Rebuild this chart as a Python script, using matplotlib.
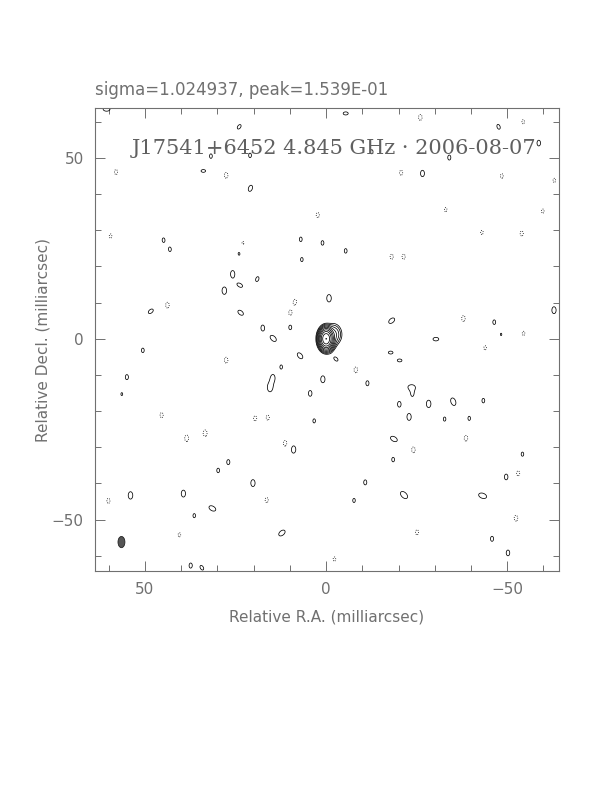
import numpy as np
import matplotlib
matplotlib.use("Agg")
import matplotlib.pyplot as plt
from matplotlib.patches import Ellipse

# map header values
source = "J17541+6452"
freq_label = "4.845 GHz"
obs_date = "2006-08-07"
sigma_val = "1.024937"
peak_val = "1.539E-01"

# map extent (mas), RA increases to the left
ra_lim = (63.8, -64.2)
dec_lim = (-64.2, 63.8)

# restoring beam (mas, deg)
beam_ra, beam_dec = 56.5, -56.2
beam_maj, beam_min, beam_pa = 3.1, 1.9, 0.0

# lowest contour (Jy) and number of doubling steps
lowest = 0.3e-3
n_levels = 9

# main source components: ra, dec (mas), flux (Jy), sigma_ra, sigma_dec (mas)
src_ra = [0.0, -2.0, -1.0]
src_dec = [0.0, 1.2, -1.2]
src_flux = [0.1539, 0.003, 0.0015]
src_sra = [0.8, 1.1, 0.9]
src_sdec = [1.2, 1.4, 1.1]

# positive noise islands: ra, dec (mas), amplitude in units of lowest contour, pa (deg)
pos_ra = [60.6, 24.0, 31.8, 21.0, 33.9, 20.9, 44.9, 43.1, 24.0, 7.0, 1.0, 6.7,
          25.8, 19.0, 23.8, 28.1, 48.4, 23.6, 17.5, 9.9, 14.6, -0.8,
          -5.4, -47.6, -58.7, -34.0, -26.6, -12.6, -5.4, -18.1, -46.4, -62.9,
          -30.3, -48.3, 50.6, 55.0, 56.4, 7.2, 12.4, 14.7, 15.5, 0.9, 4.4, 3.3,
          9.0, 27.0, 29.8, 20.2, 54.0, 39.4, 31.4, 36.4, 12.2, 37.4, 34.3,
          -2.7, -17.8, -20.3, -11.4, -23.5, -23.8, -20.2, -28.3, -35.1, -43.4,
          -22.9, -32.7, -39.5, -18.7, -18.5, -54.2, -49.7, -10.8, -21.5, -43.2,
          -7.7, -45.8, -50.2]
pos_dec = [63.5, 58.6, 50.5, 50.7, 46.4, 41.6, 27.3, 24.7, 23.6, 27.5, 26.5, 21.9,
           17.9, 16.5, 14.8, 13.3, 7.6, 7.2, 3.0, 3.2, 0.1, 11.2,
           62.3, 58.6, 54.1, 50.1, 45.7, 51.7, 24.3, 5.0, 4.6, 7.9,
           -0.1, 1.2, -3.2, -10.6, -15.3, -4.7, -7.8, -10.8, -13.5, -11.2, -15.1, -22.7,
           -30.6, -34.1, -36.4, -39.9, -43.3, -42.8, -46.9, -48.9, -53.7, -62.7, -63.3,
           -5.6, -3.8, -6.0, -12.3, -13.3, -15.3, -18.1, -18.0, -17.4, -17.1,
           -21.6, -22.2, -22.0, -27.7, -33.4, -31.9, -38.2, -39.7, -43.2, -43.4,
           -44.7, -55.3, -59.2]
pos_amp = [1.3, 1.15, 1.12, 1.12, 1.12, 1.25, 1.1, 1.1, 1.1, 1.12, 1.12, 1.1,
           1.3, 1.15, 1.2, 1.35, 1.2, 1.25, 1.2, 1.15, 1.35, 1.35,
           1.15, 1.15, 1.2, 1.15, 1.25, 1.1, 1.12, 1.3, 1.12, 1.3,
           1.2, 1.03, 1.12, 1.15, 1.05, 1.3, 1.1, 1.25, 1.45, 1.3, 1.2, 1.1,
           1.35, 1.15, 1.12, 1.3, 1.35, 1.3, 1.35, 1.1, 1.35, 1.15, 1.15,
           1.15, 1.12, 1.12, 1.15, 1.12, 1.12, 1.2, 1.35, 1.4, 1.12,
           1.3, 1.1, 1.1, 1.35, 1.12, 1.1, 1.2, 1.15, 1.5, 1.45,
           1.1, 1.15, 1.2]
pos_pa = [90, -35, 0, 0, 90, -20, 0, 0, 0, 0, 0, 0,
          0, -20, 60, 0, -50, 50, 0, 0, 45, 0,
          90, 20, 0, 0, 0, 0, 0, -50, 0, 0,
          90, 0, 0, 0, 0, 40, 0, 0, 0, 0, 0, 0,
          0, 0, 0, 0, 0, 0, 60, 0, -50, 0, 30,
          45, 90, 90, 0, 90, 0, 0, 0, 20, 0,
          0, 0, 0, 60, 0, 0, 0, 0, 45, 70,
          0, 0, 0]

# negative islands (dotted contours)
neg_ra = [58.0, 59.5, 27.6, 2.3, 23.0, 43.8, 8.6, 9.9, -26.0, -54.4, -20.7, -48.5,
          -63.0, -33.0, -59.8, -43.0, -54.0, -18.1, -21.4, -37.9, -54.5,
          27.6, 45.4, 19.6, 16.1, 38.5, 33.4, 11.3, 60.1, 16.4, 40.5,
          -43.9, -8.2, -38.6, -24.1, -53.0, -52.4, -25.1, -2.3]
neg_dec = [46.1, 28.4, 45.2, 34.2, 26.4, 9.3, 10.2, 7.1, 61.2, 60.0, 45.9, 45.0,
           43.8, 35.7, 35.3, 29.4, 29.1, 22.7, 22.7, 5.6, 1.5,
           -5.9, -21.1, -22.0, -21.8, -27.5, -26.1, -28.9, -44.8, -44.6, -54.2,
           -2.5, -8.6, -27.5, -30.7, -37.2, -49.6, -53.5, -60.9]
neg_amp = [1.15, 1.1, 1.2, 1.15, 1.1, 1.2, 1.15, 1.15, 1.2, 1.1, 1.15, 1.12,
           1.1, 1.1, 1.1, 1.1, 1.15, 1.15, 1.15, 1.2, 1.1,
           1.2, 1.15, 1.15, 1.15, 1.25, 1.25, 1.2, 1.15, 1.15, 1.1,
           1.1, 1.2, 1.2, 1.2, 1.15, 1.2, 1.15, 1.1]

# --- build the model map -------------------------------------------------
step = 0.15
ra = np.arange(ra_lim[1], ra_lim[0] + step, step)
dec = np.arange(dec_lim[0], dec_lim[1] + step, step)
RA, DEC = np.meshgrid(ra, dec)
img = np.zeros_like(RA)

bsx = beam_min / 2.3548
bsy = beam_maj / 2.3548


def add_gauss(x0, y0, amp, sx, sy, pa=0.0):
    # only evaluate a small box around the component
    r = 5 * max(sx, sy)
    i0 = max(np.searchsorted(dec, y0 - r), 0)
    i1 = np.searchsorted(dec, y0 + r)
    j0 = max(np.searchsorted(ra, x0 - r), 0)
    j1 = np.searchsorted(ra, x0 + r)
    dx = RA[i0:i1, j0:j1] - x0
    dy = DEC[i0:i1, j0:j1] - y0
    t = np.radians(pa)
    u = dx * np.cos(t) - dy * np.sin(t)
    v = dx * np.sin(t) + dy * np.cos(t)
    img[i0:i1, j0:j1] += amp * np.exp(-0.5 * ((u / sx) ** 2 + (v / sy) ** 2))


for x, y, f, sx, sy in zip(src_ra, src_dec, src_flux, src_sra, src_sdec):
    add_gauss(x, y, f, sx, sy)
for x, y, a, p in zip(pos_ra, pos_dec, pos_amp, pos_pa):
    add_gauss(x, y, a * lowest, bsx, bsy, p)
for x, y, a in zip(neg_ra, neg_dec, neg_amp):
    add_gauss(x, y, -a * lowest, bsx, bsy)

levels = lowest * 2.0 ** np.arange(n_levels + 1)

# --- plot -----------------------------------------------------------------
grey = "#707070"
fig = plt.figure(figsize=(6.12, 7.92), dpi=100)
ax = fig.add_axes([95 / 612, 1 - 571 / 792, 463.7 / 612, 463 / 792])

ax.contour(RA, DEC, img, levels=levels, colors="black", linewidths=0.55)
ax.contour(RA, DEC, img, levels=[-lowest], colors="black", linewidths=0.6,
           linestyles=":")

ax.add_patch(Ellipse((beam_ra, beam_dec), beam_min, beam_maj, angle=beam_pa,
                     facecolor="#555555", edgecolor="#222222", lw=0.6))

ax.set_xlim(*ra_lim)
ax.set_ylim(*dec_lim)
ax.set_aspect("auto")

ax.set_xticks([50, 0, -50])
ax.set_yticks([50, 0, -50])
ax.set_xticklabels(["50", "0", "\u221250"])
ax.set_yticklabels(["50", "0", "\u221250"])
ax.set_xticks(np.arange(-60, 61, 10), minor=True)
ax.set_yticks(np.arange(-60, 61, 10), minor=True)
ax.tick_params(which="both", direction="in", top=True, right=True, color=grey,
               width=0.7, labelsize=11, labelcolor=grey, pad=8)
ax.tick_params(which="major", length=7)
ax.tick_params(which="minor", length=4)
for s in ax.spines.values():
    s.set_color(grey)
    s.set_linewidth(0.8)

ax.set_xlabel("Relative R.A. (milliarcsec)", fontsize=11, color=grey)
ax.set_ylabel("Relative Decl. (milliarcsec)", fontsize=11, color=grey)
ax.xaxis.set_label_coords(0.5, (571 - 609) / 463)
ax.yaxis.set_label_coords((50 - 95) / 463.7, 0.5)

ax.text(0.515, 0.9006, f"{source} {freq_label} \u00b7 {obs_date}",
        transform=ax.transAxes, ha="center", va="baseline",
        fontsize=15, family="DejaVu Serif", color="#606060")
fig.text(95 / 612, 1 - 95 / 792, f"sigma={sigma_val}, peak={peak_val}",
         ha="left", va="baseline", fontsize=12, color=grey)

fig.savefig("out.png", dpi=100)
